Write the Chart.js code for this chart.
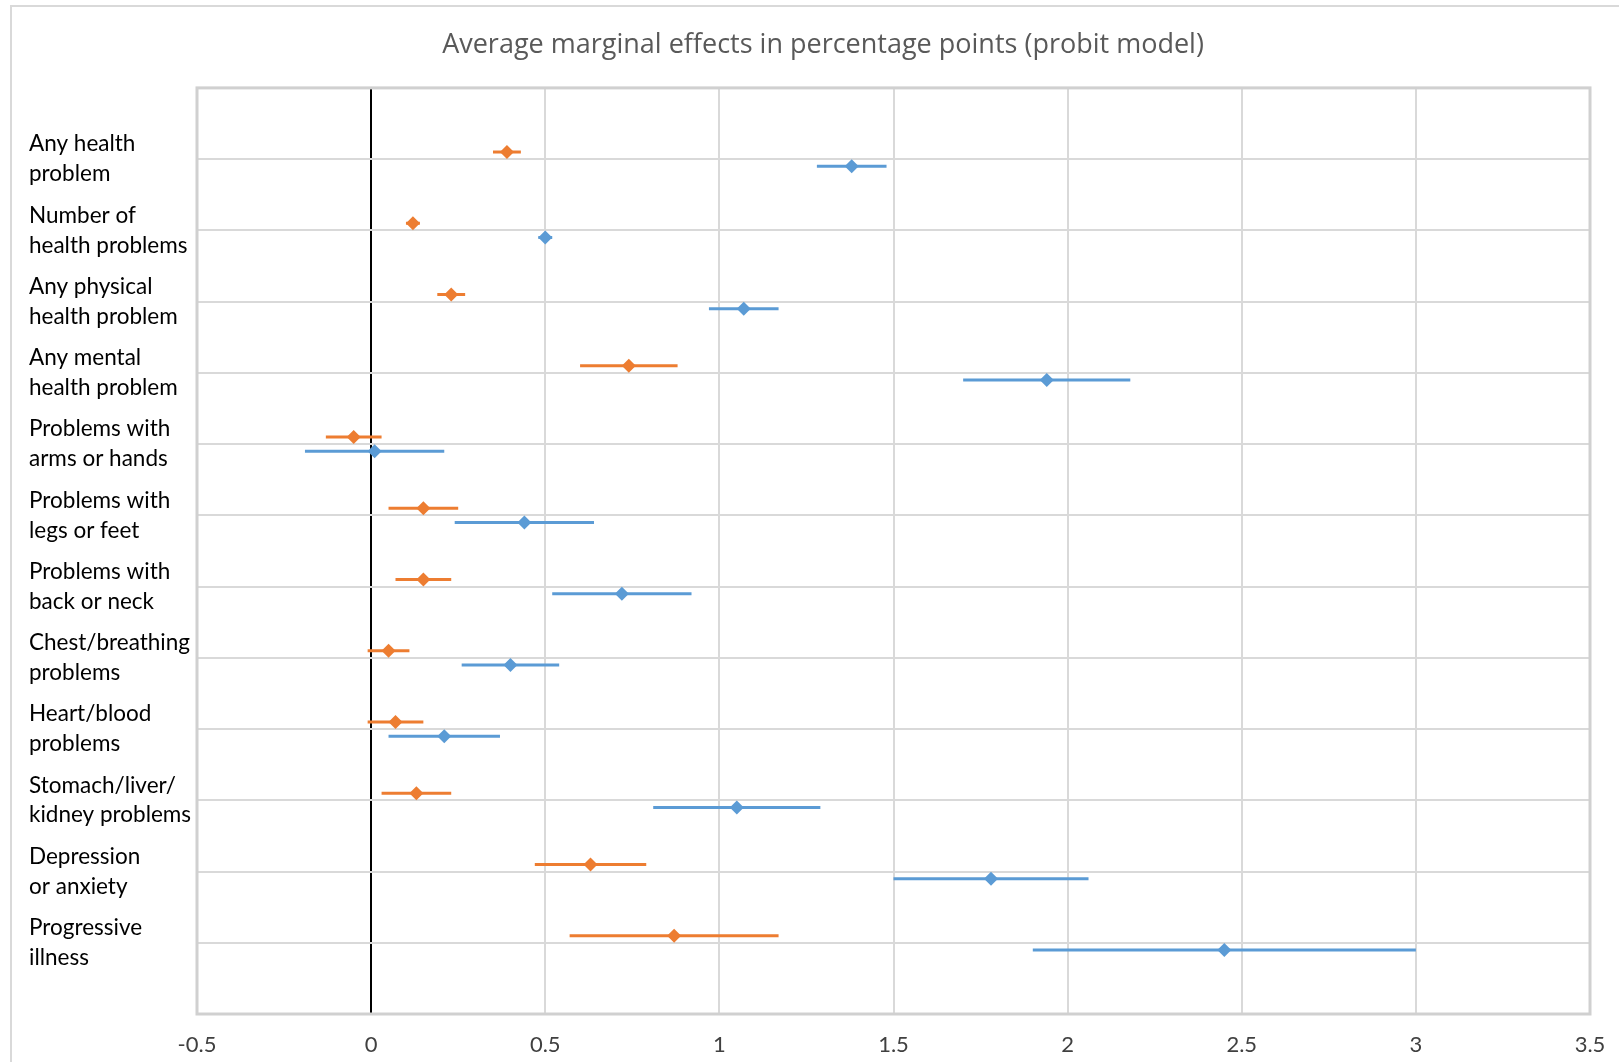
<!DOCTYPE html>
<html>
<head>
<meta charset="utf-8">
<title>Average marginal effects</title>
<script src="https://cdn.jsdelivr.net/npm/chart.js@4"></script>
<style>
  html, body { margin: 0; padding: 0; background: #fff; overflow: hidden; }
  #frame {
    position: absolute; left: 10px; top: 5px;
    width: 1700px; height: 1200px;
    border-left: 2px solid #d9d9d9; border-top: 2px solid #d9d9d9;
  }
  #chart { display: block; }
</style>
</head>
<body>
<div id="frame">
  <canvas id="chart" width="1626" height="1055"></canvas>
</div>
<script>
// Categories, top to bottom
const categories = [
  [`Any health`, `problem`],
  [`Number of`, `health problems`],
  [`Any physical`, `health problem`],
  [`Any mental`, `health problem`],
  [`Problems with`, `arms or hands`],
  [`Problems with`, `legs or feet`],
  [`Problems with`, `back or neck`],
  [`Chest/breathing`, `problems`],
  [`Heart/blood`, `problems`],
  [`Stomach/liver/`, `kidney problems`],
  [`Depression`, `or anxiety`],
  [`Progressive`, `illness`]
];

// Orange series: estimate and confidence interval
const orangeMid  = [0.39, 0.12, 0.23, 0.74, -0.05, 0.15, 0.15, 0.05, 0.07, 0.13, 0.63, 0.87];
const orangeLow  = [0.35, 0.10, 0.19, 0.60, -0.13, 0.05, 0.07, -0.01, -0.01, 0.03, 0.47, 0.57];
const orangeHigh = [0.43, 0.14, 0.27, 0.88, 0.03, 0.25, 0.23, 0.11, 0.15, 0.23, 0.79, 1.17];

// Blue series: estimate and confidence interval
const blueMid  = [1.38, 0.50, 1.07, 1.94, 0.01, 0.44, 0.72, 0.40, 0.21, 1.05, 1.78, 2.45];
const blueLow  = [1.28, 0.48, 0.97, 1.70, -0.19, 0.24, 0.52, 0.26, 0.05, 0.81, 1.50, 1.90];
const blueHigh = [1.48, 0.52, 1.17, 2.18, 0.21, 0.64, 0.92, 0.54, 0.37, 1.29, 2.06, 3.00];

// X axis tick labels
const xTicks = [-0.5, 0, 0.5, 1, 1.5, 2, 2.5, 3, 3.5];

const orange = `#ed7d31`;
const blue = `#5b9bd5`;
const gridGrey = `#d9d9d9`;
const n = categories.length;

// category i sits on y = n - i, orange just above, blue just below
const rowY = i => n - i;

const errorBars = (low, high, shift, color) => low.map((lo, i) => ({
  type: `scatter`,
  label: `err`,
  data: [{x: lo, y: rowY(i) + shift}, {x: high[i], y: rowY(i) + shift}],
  showLine: true,
  borderColor: color,
  borderWidth: 3,
  pointRadius: 0,
  order: 2
}));

const markers = (mid, shift, color, name) => ({
  type: `scatter`,
  label: name,
  data: mid.map((v, i) => ({x: v, y: rowY(i) + shift})),
  pointStyle: `rectRot`,
  pointRadius: 7,
  backgroundColor: color,
  borderColor: color,
  borderWidth: 0,
  order: 0
});

// plot area outline
const plotBorder = {
  id: `plotBorder`,
  afterDraw(chart) {
    const {ctx, chartArea: a} = chart;
    ctx.save();
    ctx.strokeStyle = `#d0d0d0`;
    ctx.lineWidth = 3;
    ctx.strokeRect(a.left, a.top, a.right - a.left, a.bottom - a.top);
    ctx.restore();
  }
};

new Chart(document.getElementById(`chart`), {
  type: `scatter`,
  data: {
    datasets: [
      markers(orangeMid, 0.1, orange, `Orange`),
      markers(blueMid, -0.1, blue, `Blue`),
      ...errorBars(orangeLow, orangeHigh, 0.1, orange),
      ...errorBars(blueLow, blueHigh, -0.1, blue)
    ]
  },
  options: {
    responsive: false,
    animation: false,
    layout: { padding: { left: 17, right: 21, top: 0, bottom: 3 } },
    plugins: {
      legend: { display: false },
      tooltip: { enabled: false },
      title: {
        display: true,
        text: `Average marginal effects in percentage points (probit model)`,
        color: `#595959`,
        font: { family: `"Open Sans", sans-serif`, size: 27, weight: `normal`, lineHeight: 1.2 },
        padding: { top: 22, bottom: 26.5 }
      }
    },
    scales: {
      x: {
        type: `linear`,
        min: xTicks[0],
        max: xTicks[xTicks.length - 1],
        afterBuildTicks: scale => { scale.ticks = xTicks.map(v => ({value: v})); },
        afterFit: scale => { scale.height = 45; },
        grid: {
          drawTicks: false,
          color: c => c.tick && c.tick.value === 0 ? `#000000` : gridGrey,
          lineWidth: 2
        },
        border: { display: false },
        ticks: {
          padding: 18,
          color: `#404040`,
          font: { family: `Lato, sans-serif`, size: 22 },
          callback: v => String(v)
        }
      },
      y: {
        type: `linear`,
        min: 0,
        max: n + 1,
        afterFit: scale => { scale.width = 168; },
        grid: { drawTicks: false, color: gridGrey, lineWidth: 2 },
        border: { display: false },
        ticks: {
          stepSize: 1,
          crossAlign: `far`,
          padding: 8,
          color: `#000000`,
          font: { family: `Lato, sans-serif`, size: 22.5, lineHeight: 1.33 },
          callback: v => (v >= 1 && v <= n) ? categories[n - v] : ``
        }
      },
      // empty right-hand spacer so the title centres over the whole frame
      spacer: {
        type: `linear`,
        position: `right`,
        min: 0,
        max: 1,
        afterFit: scale => { scale.width = 27; },
        grid: { display: false },
        border: { display: false },
        ticks: { display: false }
      }
    }
  },
  plugins: [plotBorder]
});
</script>
</body>
</html>
